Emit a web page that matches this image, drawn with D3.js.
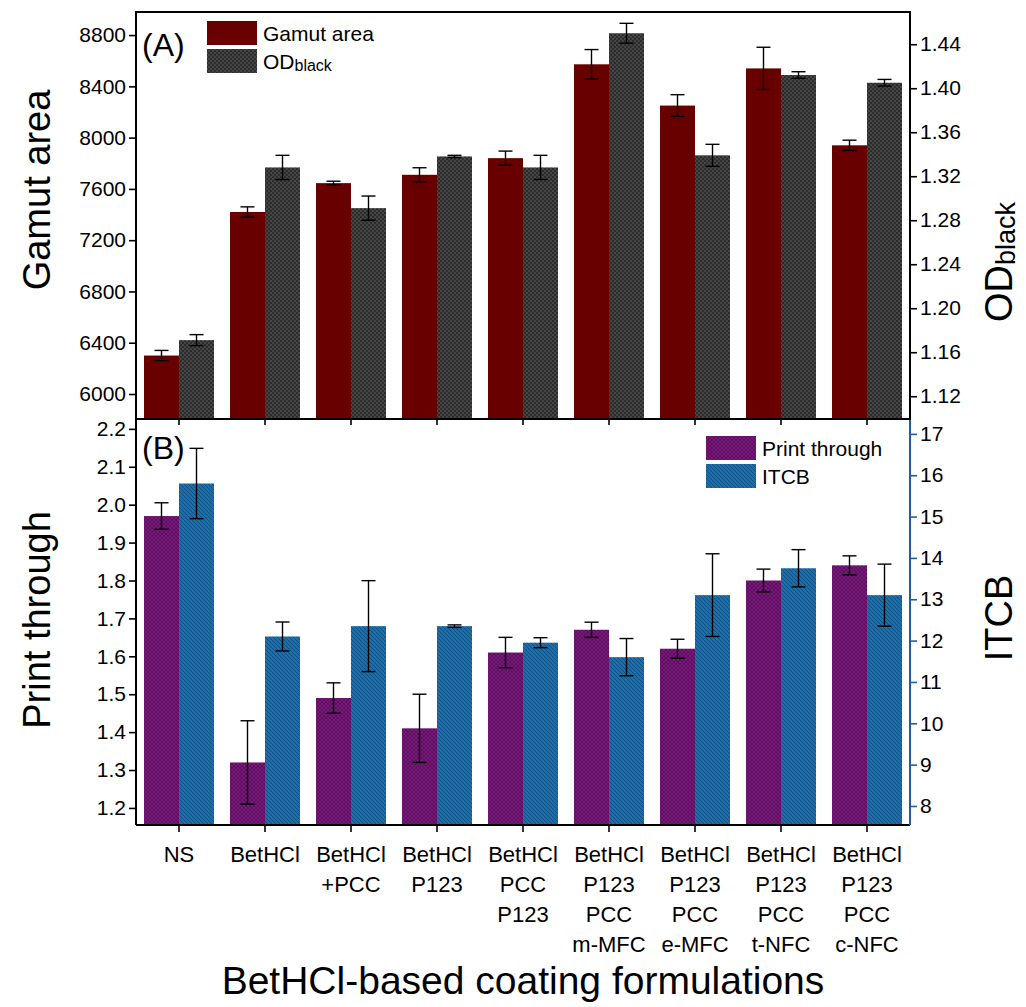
<!DOCTYPE html>
<html><head><meta charset="utf-8">
<script src="https://cdn.jsdelivr.net/npm/d3@7"></script>
<style>
html,body{margin:0;padding:0;background:#fff;}
text{font-family:"Liberation Sans",Arial,sans-serif;fill:#000;}
</style></head>
<body><div id="chart"></div>
<script>
// ---------- data ----------
const categories = [["NS"],["BetHCl"],["BetHCl","+PCC"],["BetHCl","P123"],["BetHCl","PCC","P123"],
  ["BetHCl","P123","PCC","m-MFC"],["BetHCl","P123","PCC","e-MFC"],["BetHCl","P123","PCC","t-NFC"],["BetHCl","P123","PCC","c-NFC"]];
const gamutArea = [6300,7420,7645,7710,7840,8572,8250,8540,7940];
const gamutErr  = [40,40,15,55,55,115,85,165,40];
const odBlack   = [1.171,1.328,1.291,1.338,1.328,1.450,1.339,1.412,1.405];
const odErr     = [0.005,0.011,0.011,0.001,0.011,0.009,0.010,0.003,0.003];
const printThrough = [1.97,1.32,1.49,1.41,1.61,1.67,1.62,1.80,1.84];
const printErr     = [0.035,0.11,0.04,0.09,0.04,0.02,0.025,0.03,0.025];
const itcb    = [15.8,12.1,12.35,12.35,11.95,11.6,13.1,13.75,13.1];
const itcbErr = [0.85,0.35,1.1,0.03,0.12,0.45,1.0,0.45,0.75];
const gamutTicks = [6000,6400,6800,7200,7600,8000,8400,8800];
const odTicks = [1.12,1.16,1.20,1.24,1.28,1.32,1.36,1.40,1.44];
const printTicks = [1.2,1.3,1.4,1.5,1.6,1.7,1.8,1.9,2.0,2.1,2.2];
const itcbTicks = [8,9,10,11,12,13,14,15,16,17];

// ---------- layout ----------
const W=1026,H=1007;
const L=136,R=910,T1=12,B1=419,T2=419,B2=825;
const svg=d3.select("#chart").append("svg").attr("width",W).attr("height",H);
const defs=svg.append("defs");

// patterns
const pOD=defs.append("pattern").attr("id","pOD").attr("patternUnits","userSpaceOnUse").attr("width",4).attr("height",4);
pOD.append("rect").attr("width",4).attr("height",4).attr("fill","#454545");
pOD.append("rect").attr("width",2).attr("height",2).attr("fill","#2c2c2c");
pOD.append("rect").attr("x",2).attr("y",2).attr("width",2).attr("height",2).attr("fill","#2c2c2c");
const pPT=defs.append("pattern").attr("id","pPT").attr("patternUnits","userSpaceOnUse").attr("width",4).attr("height",4);
pPT.append("rect").attr("width",4).attr("height",4).attr("fill","#741a77");
pPT.append("path").attr("d","M0,0L4,4M4,0L0,4").attr("stroke","#5a0a5e").attr("stroke-width",0.8);
const pIT=defs.append("pattern").attr("id","pIT").attr("patternUnits","userSpaceOnUse").attr("width",4).attr("height",4);
pIT.append("rect").attr("width",4).attr("height",4).attr("fill","#1d6ea8");
pIT.append("path").attr("d","M-1,-1L5,5M-1,3L1,5M3,-1L5,1").attr("stroke","#0f5288").attr("stroke-width",1);

// scales
const x=d3.scaleBand().domain(d3.range(categories.length)).range([L,R]).paddingInner(0.186).paddingOuter(0.093);
const xs=d3.scaleBand().domain([0,1]).range([0,x.bandwidth()]);
const yG=d3.scaleLinear().domain([5805,8980]).range([B1,T1]);
const yO=d3.scaleLinear().domain([1.0993,1.4693]).range([B1,T1]);
const yP=d3.scaleLinear().domain([1.155,2.226]).range([B2,T2]);
const yI=d3.scaleLinear().domain([7.54,17.36]).range([B2,T2]);

function bars(g,vals,errs,scale,sub,fill,bottom){
  const grp=g.append("g");
  grp.selectAll("rect").data(vals).join("rect")
    .attr("x",(d,i)=>x(i)+xs(sub)).attr("width",xs.bandwidth())
    .attr("y",d=>scale(d)).attr("height",d=>bottom-scale(d)).attr("fill",fill);
  const eb=g.append("g").attr("stroke","#000").attr("stroke-width",1.4);
  vals.forEach((d,i)=>{
    const cx=x(i)+xs(sub)+xs.bandwidth()/2;
    const y1=scale(d+errs[i]), y2=scale(d-errs[i]);
    eb.append("line").attr("x1",cx).attr("x2",cx).attr("y1",y1).attr("y2",y2);
    eb.append("line").attr("x1",cx-7).attr("x2",cx+7).attr("y1",y1).attr("y2",y1);
    eb.append("line").attr("x1",cx-7).attr("x2",cx+7).attr("y1",y2).attr("y2",y2);
  });
}

const plot=svg.append("g");
bars(plot,gamutArea,gamutErr,yG,0,"#680000",B1);
bars(plot,odBlack,odErr,yO,1,"url(#pOD)",B1);
bars(plot,printThrough,printErr,yP,0,"url(#pPT)",B2);
bars(plot,itcb,itcbErr,yI,1,"url(#pIT)",B2);

// axes
function styleAxis(g,color,fs){
  g.select(".domain").remove();
  g.selectAll(".tick line").attr("stroke",color).attr("stroke-width",1.6);
  g.selectAll(".tick text").style("font-size",fs+"px").attr("fill","#000");
}
const fmt2=d3.format(".2f"), fmt1=d3.format(".1f"), fmt0=d3.format("d");
styleAxis(svg.append("g").attr("transform",`translate(${L},0)`).call(d3.axisLeft(yG).tickValues(gamutTicks).tickFormat(fmt0).tickSize(7).tickPadding(3)),"#000",21);
styleAxis(svg.append("g").attr("transform",`translate(${R},0)`).call(d3.axisRight(yO).tickValues(odTicks).tickFormat(fmt2).tickSize(7).tickPadding(3)),"#000",21);
styleAxis(svg.append("g").attr("transform",`translate(${L},0)`).call(d3.axisLeft(yP).tickValues(printTicks).tickFormat(fmt1).tickSize(7).tickPadding(3)),"#000",21);
styleAxis(svg.append("g").attr("transform",`translate(${R},0)`).call(d3.axisRight(yI).tickValues(itcbTicks).tickFormat(fmt0).tickSize(7).tickPadding(3)),"#1f5f99",21);

// x ticks
const xt1=svg.append("g").attr("transform",`translate(0,${B1})`).call(d3.axisBottom(x).tickSize(6).tickFormat(""));
xt1.select(".domain").remove(); xt1.selectAll(".tick line").attr("stroke","#000").attr("stroke-width",1.6);
const xt2=svg.append("g").attr("transform",`translate(0,${B2})`).call(d3.axisBottom(x).tickSize(7).tickFormat(""));
xt2.select(".domain").remove(); xt2.selectAll(".tick line").attr("stroke","#000").attr("stroke-width",1.6);

// frames
svg.append("rect").attr("x",L).attr("y",T1).attr("width",R-L).attr("height",B1-T1).attr("fill","none").attr("stroke","#000").attr("stroke-width",2);
svg.append("line").attr("x1",L).attr("x2",L).attr("y1",T2).attr("y2",B2).attr("stroke","#000").attr("stroke-width",2);
svg.append("line").attr("x1",L).attr("x2",R).attr("y1",B2).attr("y2",B2).attr("stroke","#000").attr("stroke-width",2);
svg.append("line").attr("x1",R).attr("x2",R).attr("y1",T2+1).attr("y2",B2).attr("stroke","#1f5f99").attr("stroke-width",2);

// x category labels
const xl=svg.append("g");
categories.forEach((lines,i)=>{
  const t=xl.append("text").attr("x",x(i)+x.bandwidth()/2).attr("y",862).attr("text-anchor","middle").style("font-size","22px");
  lines.forEach((s,j)=>t.append("tspan").attr("x",x(i)+x.bandwidth()/2).attr("dy",j?30:0).text(s));
});

// axis titles
svg.append("text").attr("transform","translate(50,190) rotate(-90)").attr("text-anchor","middle").style("font-size","38px").text("Gamut area");
svg.append("text").attr("transform","translate(50,620) rotate(-90)").attr("text-anchor","middle").style("font-size","38px").text("Print through");
const odT=svg.append("text").attr("transform","translate(1012,262) rotate(-90)").attr("text-anchor","middle").style("font-size","38px");
odT.append("tspan").text("OD"); odT.append("tspan").style("font-size","27px").attr("dy",3).text("black");
svg.append("text").attr("transform","translate(1012,618) rotate(-90)").attr("text-anchor","middle").style("font-size","38px").text("ITCB");
svg.append("text").attr("x",(L+R)/2).attr("y",994).attr("text-anchor","middle").style("font-size","39px").text("BetHCl-based coating formulations");

// panel labels
svg.append("text").attr("x",142).attr("y",56).style("font-size","32px").text("(A)");
svg.append("text").attr("x",142).attr("y",459).style("font-size","32px").text("(B)");

// legends
const lg=svg.append("g");
lg.append("rect").attr("x",207).attr("y",21).attr("width",50).attr("height",24).attr("fill","#680000");
lg.append("rect").attr("x",207).attr("y",49).attr("width",50).attr("height",24).attr("fill","url(#pOD)");
lg.append("text").attr("x",263).attr("y",41).style("font-size","21px").text("Gamut area");
const lo=lg.append("text").attr("x",263).attr("y",69).style("font-size","21px");
lo.append("tspan").text("OD"); lo.append("tspan").style("font-size","16px").attr("dy",2).text("black");
lg.append("rect").attr("x",706).attr("y",436).attr("width",50).attr("height",24).attr("fill","url(#pPT)");
lg.append("rect").attr("x",706).attr("y",464).attr("width",50).attr("height",24).attr("fill","url(#pIT)");
lg.append("text").attr("x",762).attr("y",456).style("font-size","21px").text("Print through");
lg.append("text").attr("x",762).attr("y",484).style("font-size","21px").text("ITCB");
</script></body></html>
